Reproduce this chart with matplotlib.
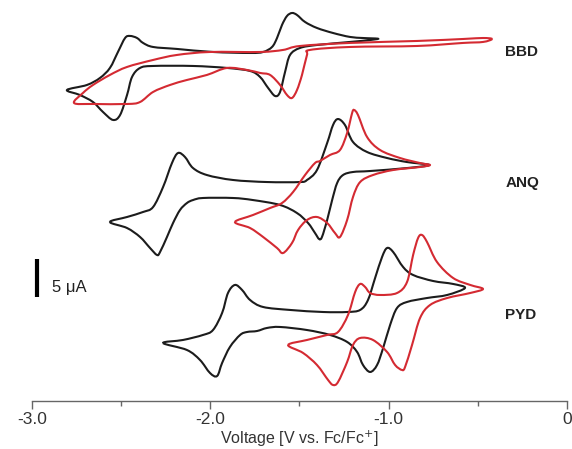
import matplotlib
matplotlib.use("Agg")
import matplotlib.pyplot as plt
from matplotlib.path import Path
from matplotlib.patches import PathPatch
import numpy as np

plt.rcParams['font.family'] = ['Liberation Sans', 'DejaVu Sans']

# cyclic voltammograms, potential in V vs Fc/Fc+, current in uA (relative to each trace's baseline)
bbd_black_v = [-1.059, -1.144, -1.217, -1.312, -1.402, -1.469, -1.514, -1.542, -1.570, -1.598,
               -1.626, -1.654, -1.704, -1.777, -1.985, -2.187, -2.321, -2.377, -2.411, -2.450,
               -2.478, -2.518, -2.563, -2.619, -2.692, -2.804,
               -2.731, -2.658, -2.602, -2.546, -2.506, -2.467, -2.439, -2.394, -2.321, -2.097,
               -1.906, -1.777, -1.721, -1.676, -1.637, -1.609, -1.581, -1.553, -1.497, -1.402,
               -1.217, -1.059]
bbd_black_i = [2.76, 2.89, 3.03, 3.55, 4.21, 5.00, 5.92, 6.18, 5.79, 4.61,
               2.89, 1.71, 1.05, 0.92, 1.05, 1.45, 1.71, 2.24, 2.89, 3.16,
               2.89, 1.05, -1.05, -2.37, -3.29, -3.95,
               -4.61, -5.53, -6.84, -7.89, -7.24, -4.61, -2.24, -1.05, -0.79, -0.79,
               -1.05, -1.45, -2.24, -3.68, -4.74, -4.21, -1.58, 0.66, 1.58, 1.97,
               2.37, 2.76]

bbd_red_v = [-0.420, -0.471, -0.583, -0.841, -1.217, -1.497, -1.592, -1.721, -2.002, -2.187,
             -2.321, -2.467, -2.563, -2.658, -2.714, -2.764,
             -2.658, -2.467, -2.394, -2.321, -2.226, -2.131, -2.019, -1.906, -1.794, -1.721,
             -1.665, -1.609, -1.570, -1.542, -1.514, -1.486, -1.458, -1.441, -1.217, -0.841,
             -0.583, -0.471, -0.420]
bbd_red_i = [2.76, 2.89, 2.76, 2.50, 2.24, 1.84, 1.32, 1.05, 1.05, 0.66,
             0.0, -0.92, -1.97, -3.29, -4.34, -5.66,
             -5.79, -5.79, -5.53, -4.21, -3.29, -2.63, -1.97, -1.05, -1.32, -1.71,
             -1.97, -3.29, -4.61, -5.00, -3.95, -1.97, 0.66, 1.32, 1.71, 1.84,
             2.24, 2.37, 2.76]

anq_black_v = [-2.563, -2.467, -2.377, -2.321, -2.265, -2.215, -2.181, -2.142, -2.097, -2.019,
               -1.873, -1.682, -1.497, -1.458, -1.402, -1.345, -1.312, -1.284, -1.245, -1.200,
               -1.121, -1.009, -0.897, -0.773,
               -0.897, -1.104, -1.200, -1.256, -1.289, -1.317, -1.345, -1.374, -1.390, -1.413,
               -1.452, -1.514, -1.609, -1.761, -1.873, -2.041, -2.097, -2.131, -2.170, -2.209,
               -2.243, -2.282, -2.299, -2.338, -2.394, -2.467, -2.563]
anq_black_i = [-4.21, -3.55, -2.89, -2.24, 0.39, 3.55, 4.87, 4.34, 2.89, 1.97,
               1.32, 1.05, 1.05, 1.32, 2.63, 6.18, 8.55, 9.34, 8.55, 6.32,
               5.00, 4.21, 3.68, 3.29,
               2.89, 2.50, 2.37, 1.97, 0.92, -1.32, -3.95, -6.18, -6.45, -5.66,
               -4.34, -3.03, -1.97, -1.32, -1.05, -1.05, -1.32, -1.71, -2.63, -4.34,
               -6.18, -8.16, -8.55, -7.63, -6.18, -5.00, -4.21]

anq_red_v = [-1.862, -1.761, -1.665, -1.598, -1.536, -1.469, -1.413, -1.385, -1.329, -1.273,
             -1.233, -1.205, -1.194, -1.172, -1.121, -1.048, -0.936, -0.824, -0.768,
             -0.824, -0.975, -1.088, -1.160, -1.200, -1.233, -1.273, -1.301, -1.345, -1.402,
             -1.458, -1.508, -1.542, -1.592, -1.626, -1.704, -1.777, -1.862]
anq_red_i = [-4.21, -3.29, -2.37, -1.71, -0.26, 1.97, 3.55, 3.82, 4.61, 5.26,
             7.50, 10.13, 10.53, 9.87, 6.97, 5.26, 4.21, 3.55, 3.29,
             3.03, 2.63, 1.97, 1.05, -0.92, -3.95, -6.18, -5.66, -4.34, -3.55,
             -3.95, -5.26, -6.97, -8.29, -7.63, -6.18, -5.00, -4.21]

pyd_black_v = [-2.265, -2.153, -2.041, -1.985, -1.934, -1.901, -1.862, -1.822, -1.777, -1.704,
               -1.553, -1.368, -1.233, -1.160, -1.116, -1.076, -1.037, -1.009, -0.975, -0.919,
               -0.863, -0.751, -0.639, -0.572,
               -0.672, -0.785, -0.897, -0.953, -0.992, -1.031, -1.065, -1.104, -1.144, -1.177,
               -1.233, -1.329, -1.458, -1.609, -1.682, -1.738, -1.794, -1.833, -1.890, -1.934,
               -1.962, -2.002, -2.058, -2.131, -2.265]
pyd_black_i = [-3.03, -2.63, -1.97, -1.32, 0.92, 3.55, 4.61, 3.95, 2.63, 1.71,
               1.32, 1.05, 1.05, 1.32, 2.63, 5.53, 8.29, 9.47, 8.95, 6.97,
               5.92, 5.13, 4.74, 4.21,
               3.29, 2.89, 2.37, 1.58, -0.66, -3.68, -5.92, -6.84, -5.92, -4.21,
               -2.89, -1.97, -1.32, -0.92, -1.05, -1.45, -1.58, -1.97, -3.55, -5.66,
               -7.37, -6.97, -5.26, -3.95, -3.03]

pyd_red_v = [-1.564, -1.458, -1.345, -1.284, -1.228, -1.188, -1.160, -1.132, -1.104, -1.048,
             -0.953, -0.897, -0.863, -0.835, -0.813, -0.785, -0.729, -0.639, -0.543, -0.471,
             -0.543, -0.672, -0.768, -0.824, -0.869, -0.908, -0.925, -0.964, -1.009, -1.088,
             -1.160, -1.200, -1.233, -1.284, -1.312, -1.340, -1.402, -1.480, -1.564]
pyd_red_i = [-3.29, -2.63, -1.97, -1.58, 0.66, 3.68, 4.74, 4.34, 3.55, 3.29,
             3.55, 5.00, 8.55, 10.79, 11.18, 10.26, 7.63, 5.53, 4.61, 4.08,
             3.55, 2.89, 1.97, 0.26, -3.29, -6.18, -6.58, -5.92, -4.21, -2.63,
             -2.37, -3.29, -5.53, -8.16, -8.55, -7.89, -5.92, -4.34, -3.29]

names = ['BBD', 'ANQ', 'PYD']
offsets = [44.87, 27.76, 10.66]   # vertical stacking of the three compounds (uA)
label_y = [45.9, 28.7, 11.3]

traces = [
    (bbd_black_v, bbd_black_i, bbd_red_v, bbd_red_i),
    (anq_black_v, anq_black_i, anq_red_v, anq_red_i),
    (pyd_black_v, pyd_black_i, pyd_red_v, pyd_red_i),
]

black = '#1c1c1c'
red = '#d42a32'


def smooth_loop(v, i):
    # closed Catmull-Rom curve through the read-off points, drawn as cubic beziers
    p = np.column_stack([v, i])[:-1]
    n = len(p)
    verts = [p[0]]
    codes = [Path.MOVETO]
    for k in range(n):
        p0, p1, p2, p3 = p[k - 1], p[k], p[(k + 1) % n], p[(k + 2) % n]
        verts += [p1 + (p2 - p0) / 6.0, p2 - (p3 - p1) / 6.0, p2]
        codes += [Path.CURVE4] * 3
    return Path(verts, codes)


fig = plt.figure(figsize=(5.72, 4.49), dpi=100)
ax = fig.add_axes([0.0559, 0.1069, 0.9354, 0.8931])

for (bv, bi, rv, ri), off in zip(traces, offsets):
    for v, i, c in [(bv, bi, black), (rv, ri, red)]:
        path = smooth_loop(v, np.array(i) + off)
        ax.add_patch(PathPatch(path, fill=False, edgecolor=c, lw=1.5, joinstyle='round'))

for name, y in zip(names, label_y):
    ax.text(-0.345, y, name, fontsize=11, fontweight='bold', color='#222222',
            ha='left', va='center')

# 5 uA scale bar
ax.plot([-2.972, -2.972], [13.68, 18.68], color='black', lw=3, solid_capstyle='butt')
ax.text(-2.89, 14.9, '5 μA', fontsize=12, color='#222222', ha='left', va='center')

ax.set_xlim(-3.0, 0.0)
ax.set_ylim(0, 52.76)
for s in ['left', 'top', 'right']:
    ax.spines[s].set_visible(False)
ax.spines['bottom'].set_color('#666666')
ax.spines['bottom'].set_linewidth(1.0)
ax.set_yticks([])
ax.set_xticks([-3.0, -2.0, -1.0, 0.0])
ax.set_xticklabels(['-3.0', '-2.0', '-1.0', '0'])
ax.set_xticks([-2.5, -1.5, -0.5], minor=True)
ax.tick_params(axis='x', which='major', length=6, width=1, color='#666666',
               labelsize=12.5, labelcolor='#333333', pad=2)
ax.tick_params(axis='x', which='minor', length=3.5, width=1, color='#666666')
ax.set_xlabel('Voltage [V vs. Fc/Fc$^{+}$]', fontsize=11.5, color='#333333', labelpad=1)

fig.savefig('out.png', dpi=100)
